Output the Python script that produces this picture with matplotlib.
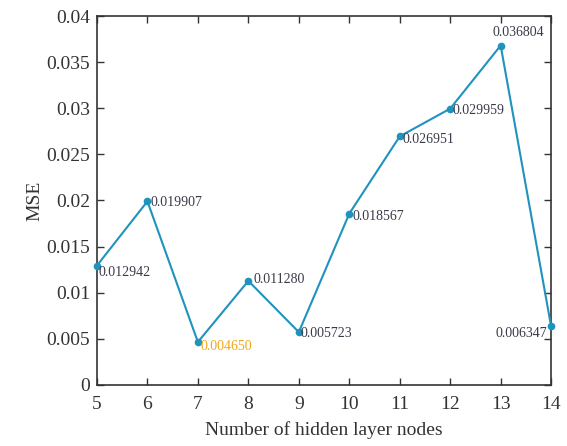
import matplotlib
matplotlib.use("Agg")
import matplotlib.pyplot as plt

nodes = [5, 6, 7, 8, 9, 10, 11, 12, 13, 14]
mse = [0.012942, 0.019907, 0.004650, 0.011280, 0.005723, 0.018567, 0.026951, 0.029959, 0.036804, 0.006347]
labels = ["0.012942", "0.019907", "0.004650", "0.011280", "0.005723", "0.018567", "0.026951", "0.029959", "0.036804", "0.006347"]

plt.rcParams['font.family'] = ['Liberation Serif', 'DejaVu Serif']

fig = plt.figure(figsize=(5.67, 4.46), dpi=100)
ax = fig.add_axes([0.171, 0.137, 0.801, 0.827])
line_c = '#2093bd'
ax.plot(nodes, mse, color=line_c, lw=1.5, marker='o', ms=4.5, clip_on=False, zorder=3)

offsets = {
    0: (1, -5, 'left', 'center'),
    1: (2, -1, 'left', 'center'),
    2: (2, -3, 'left', 'center'),
    3: (4, 1, 'left', 'center'),
    4: (1, -1, 'left', 'center'),
    5: (2, -2, 'left', 'center'),
    6: (2, -2, 'left', 'center'),
    7: (2, -1, 'left', 'center'),
    8: (-6, 5, 'left', 'bottom'),
    9: (-3, -5, 'right', 'center'),
}
for i, (x, y) in enumerate(zip(nodes, mse)):
    dx, dy, ha, va = offsets[i]
    col = '#f0a81a' if i == 2 else '#3a3a48'
    ax.annotate(labels[i], (x, y), xytext=(dx, dy), textcoords='offset points',
                ha=ha, va=va, fontsize=10, color=col)

ax.set_xlim(5, 14)
ax.set_ylim(0, 0.04)
ax.set_xticks(nodes)
ax.set_yticks([0, 0.005, 0.01, 0.015, 0.02, 0.025, 0.03, 0.035, 0.04])
ax.set_yticklabels(["0", "0.005", "0.01", "0.015", "0.02", "0.025", "0.03", "0.035", "0.04"])
ax.tick_params(direction='in', length=5, width=1, labelsize=14, colors='#333333',
               top=True, right=True, pad=5)
ax.tick_params(axis='x', pad=8)
for s in ax.spines.values():
    s.set_linewidth(1.2)
    s.set_color('#333333')
ax.set_xlabel("Number of hidden layer nodes", fontsize=14, color='#333333', labelpad=6)
ax.set_ylabel("MSE", fontsize=14, color='#333333', labelpad=2)

fig.savefig("out.png", dpi=100)
